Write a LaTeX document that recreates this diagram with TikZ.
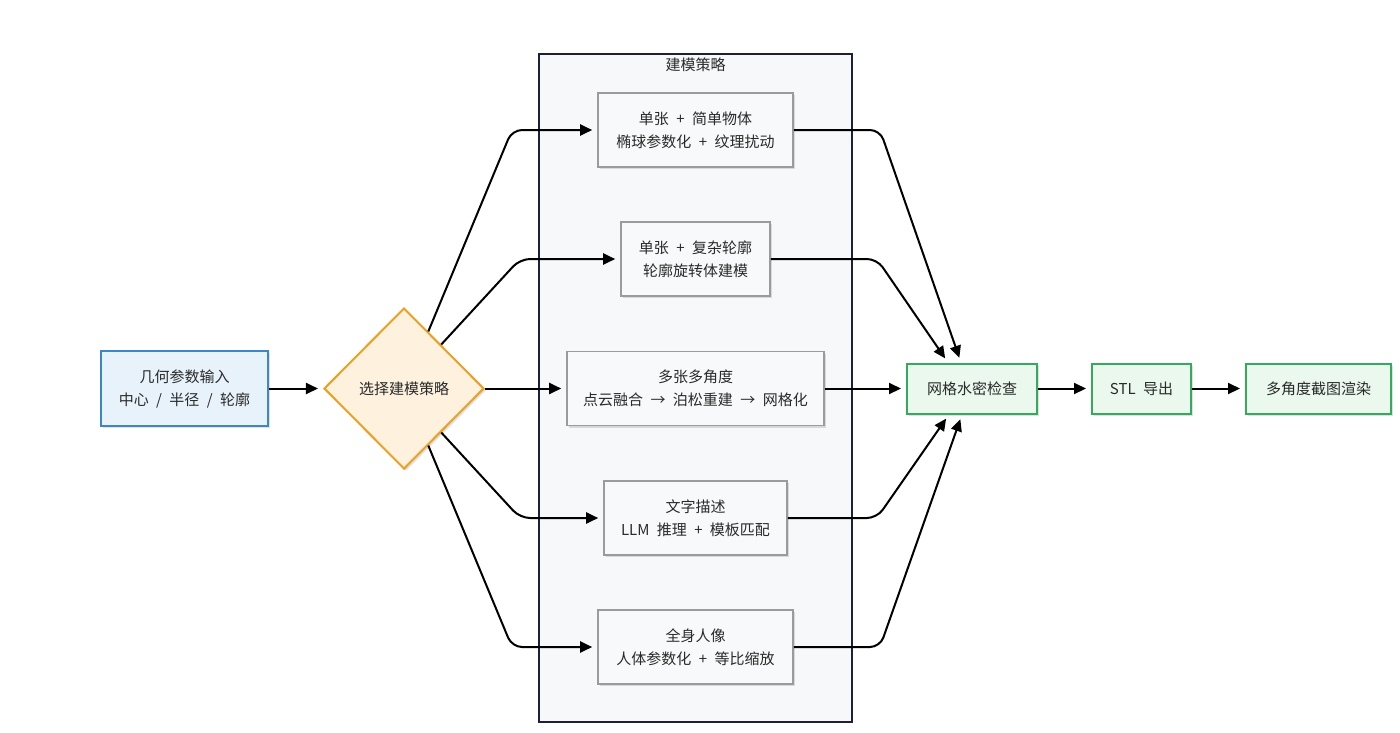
\documentclass[tikz,border=0pt]{standalone}
\usepackage{fontspec}
\setmainfont[WordSpace=2.2]{Noto Sans CJK SC}
\usetikzlibrary{arrows.meta,shapes.geometric,calc,shadows}
\definecolor{inpfill}{HTML}{E7F2FB}
\definecolor{inpline}{HTML}{3C87C7}
\definecolor{decfill}{HTML}{FEF2DF}
\definecolor{decline}{HTML}{E9A124}
\definecolor{clfill}{HTML}{F7F8FA}
\definecolor{clline}{HTML}{1F1F38}
\definecolor{boxfill}{HTML}{F8F9FA}
\definecolor{boxline}{HTML}{9B9B9B}
\definecolor{gfill}{HTML}{EAF8EE}
\definecolor{gline}{HTML}{33AA5C}
\definecolor{txt}{HTML}{2A2A2A}
\tikzset{
  base/.style={rectangle, inner sep=0pt, align=center, text=txt,
    font=\fontsize{15}{23}\selectfont,
    drop shadow={shadow xshift=2pt, shadow yshift=-2pt, opacity=0.12, fill=black}},
  inbox/.style={base, draw=inpline, fill=inpfill, line width=2pt},
  decbox/.style={diamond, inner sep=0pt, align=center, text=txt,
    font=\fontsize{15}{23}\selectfont, draw=decline, fill=decfill, line width=2pt,
    minimum width=160pt, minimum height=161pt,
    drop shadow={shadow xshift=2pt, shadow yshift=-2pt, opacity=0.12, fill=black}},
  clbox/.style={rectangle, draw=clline, fill=clfill, line width=2pt, inner sep=0pt},
  stbox/.style={base, draw=boxline, fill=boxfill, line width=1.6pt, minimum height=74pt},
  gbox/.style={base, draw=gline, fill=gfill, line width=2pt, minimum height=50pt},
  arr/.style={draw=black, line width=2pt, rounded corners=10pt,
    -{Triangle[length=12pt,width=11pt]}, shorten >=5pt},
}
\begin{document}
\begin{tikzpicture}[x=1pt,y=-1pt]
\useasboundingbox (0,0) rectangle (1400,732);
% cluster
\node[clbox, minimum width=313pt, minimum height=668pt] (cl) at (695.5,388) {};
\node[text=txt, font=\fontsize{15}{18}\selectfont] (cltitle) at (695.5,65) {建模策略};
% nodes
\node[inbox, minimum width=167pt, minimum height=75pt] (inp) at (184.5,388.5) {几何参数输入\\中心 / 半径 / 轮廓};
\node[decbox] (dec) at (404,388.5) {选择建模策略};
\node[stbox, minimum width=195pt] (b1) at (695.5,130) {单张 + 简单物体\\椭球参数化 + 纹理扰动};
\node[stbox, minimum width=149pt] (b2) at (695.5,259) {单张 + 复杂轮廓\\轮廓旋转体建模};
\node[stbox, minimum width=257pt] (b3) at (695.5,388.5) {多张多角度\\点云融合 → 泊松重建 → 网格化};
\node[stbox, minimum width=183pt] (b4) at (695.5,518) {文字描述\\LLM 推理 + 模板匹配};
\node[stbox, minimum width=195pt] (b5) at (695.5,647) {全身人像\\人体参数化 + 等比缩放};
\node[gbox, minimum width=130pt] (mesh) at (972,388.5) {网格水密检查};
\node[gbox, minimum width=99pt] (stl) at (1141.5,388.5) {STL 导出};
\node[gbox, minimum width=145pt] (ren) at (1318.5,388.5) {多角度截图渲染};
% connectors
\draw[arr] (inp) -- (dec);
\draw[arr] ($(dec.north)!0.3!(dec.east)$) -- (512,130) -- (b1.west);
\draw[arr] ($(dec.north)!0.46!(dec.east)$) -- (520,259) -- (b2.west);
\draw[arr] (dec.east) -- (b3.west);
\draw[arr] ($(dec.south)!0.46!(dec.east)$) -- (520,518) -- (b4.west);
\draw[arr] ($(dec.south)!0.3!(dec.east)$) -- (512,647) -- (b5.west);
\draw[arr] (b1.east) -- (880,130) -- ($(mesh.north)+(-11,0)$);
\draw[arr] (b2.east) -- (877,259) -- ($(mesh.north)+(-24,0)$);
\draw[arr] (b3.east) -- (mesh.west);
\draw[arr] (b4.east) -- (877,518) -- ($(mesh.south)+(-23,0)$);
\draw[arr] (b5.east) -- (880,647) -- ($(mesh.south)+(-10,0)$);
\draw[arr] (mesh) -- (stl);
\draw[arr] (stl) -- (ren);
\end{tikzpicture}
\end{document}
